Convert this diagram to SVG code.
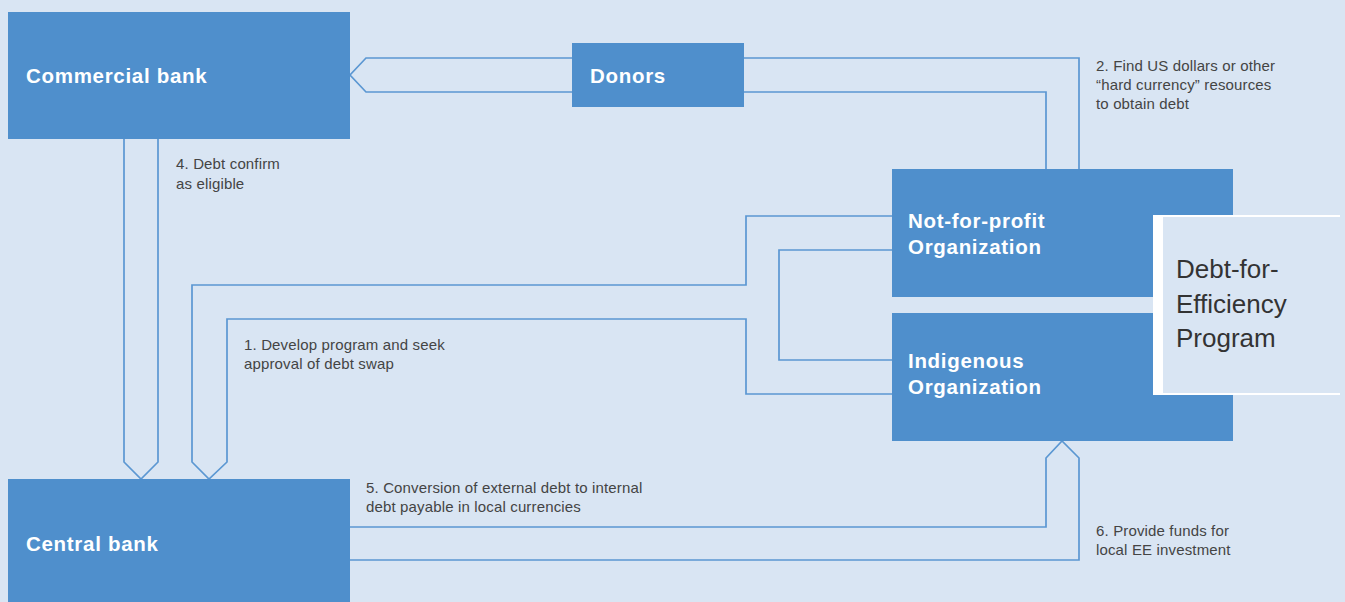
<svg xmlns="http://www.w3.org/2000/svg" width="1345" height="602" viewBox="0 0 1345 602">
<style>
.box{fill:#4f8fcc}
.bl{font-family:"Liberation Sans",Arial,sans-serif;font-weight:bold;font-size:20.5px;letter-spacing:0.7px;fill:#ffffff}
.sm{font-family:"Liberation Sans",Arial,sans-serif;font-size:15px;letter-spacing:0.15px;fill:#444444}
.big{font-family:"Liberation Sans",Arial,sans-serif;font-size:26px;fill:#333333}
.ln{fill:none;stroke:#5b97d2;stroke-width:1.7;stroke-linejoin:miter}
</style>
<rect width="1345" height="602" fill="#d9e5f3"/>
<g id="connectors">
<path class="ln" d="M572,58 H366 L350,75 L366,92 H572"/>
<path class="ln" d="M744,58 H1079 V169"/>
<path class="ln" d="M744,92 H1046 V169"/>
<path class="ln" d="M124,139 V462 L141,479 L158,462 V139"/>
<path class="ln" d="M892,216 H746 V285 H192 V462 L209,479 L227,462 V319 H746 V394 H892"/>
<path class="ln" d="M892,250 H779 V360 H892"/>
<path class="ln" d="M350,527 H1046 V458 L1062,441 L1079,458 V560 H350"/>
</g>
<g id="commercial-bank">
<rect class="box" x="8" y="12" width="342" height="127"/>
<text class="bl" x="26" y="83">Commercial bank</text>
</g>
<g id="donors">
<rect class="box" x="572" y="43" width="172" height="64"/>
<text class="bl" x="590" y="83">Donors</text>
</g>
<g id="not-for-profit">
<rect class="box" x="892" y="169" width="341" height="128"/>
<text class="bl" x="908" y="228">Not-for-profit</text>
<text class="bl" x="908" y="254">Organization</text>
</g>
<g id="indigenous">
<rect class="box" x="892" y="313" width="341" height="128"/>
<text class="bl" x="908" y="368">Indigenous</text>
<text class="bl" x="908" y="394">Organization</text>
</g>
<g id="central-bank">
<rect class="box" x="8" y="479" width="342" height="130"/>
<text class="bl" x="26" y="551">Central bank</text>
</g>
<g id="debt-for-efficiency">
<rect x="1158" y="216" width="182" height="178" fill="#d9e5f3"/>
<rect x="1153" y="215" width="10" height="180" fill="#ffffff"/>
<rect x="1153" y="215" width="187" height="2" fill="#ffffff"/>
<rect x="1153" y="393" width="187" height="2" fill="#ffffff"/>
<text class="big" x="1176" y="278">Debt-for-</text>
<text class="big" x="1176" y="313">Efficiency</text>
<text class="big" x="1176" y="347">Program</text>
</g>
<g id="labels">
<text class="sm" x="1096" y="71">2. Find US dollars or other</text>
<text class="sm" x="1096" y="90">“hard currency” resources</text>
<text class="sm" x="1096" y="109">to obtain debt</text>
<text class="sm" x="176" y="169">4. Debt confirm</text>
<text class="sm" x="176" y="189">as eligible</text>
<text class="sm" x="244" y="350">1. Develop program and seek</text>
<text class="sm" x="244" y="369">approval of debt swap</text>
<text class="sm" x="366" y="493">5. Conversion of external debt to internal</text>
<text class="sm" x="366" y="512">debt payable in local currencies</text>
<text class="sm" x="1096" y="536">6. Provide funds for</text>
<text class="sm" x="1096" y="555">local EE investment</text>
</g>
</svg>
